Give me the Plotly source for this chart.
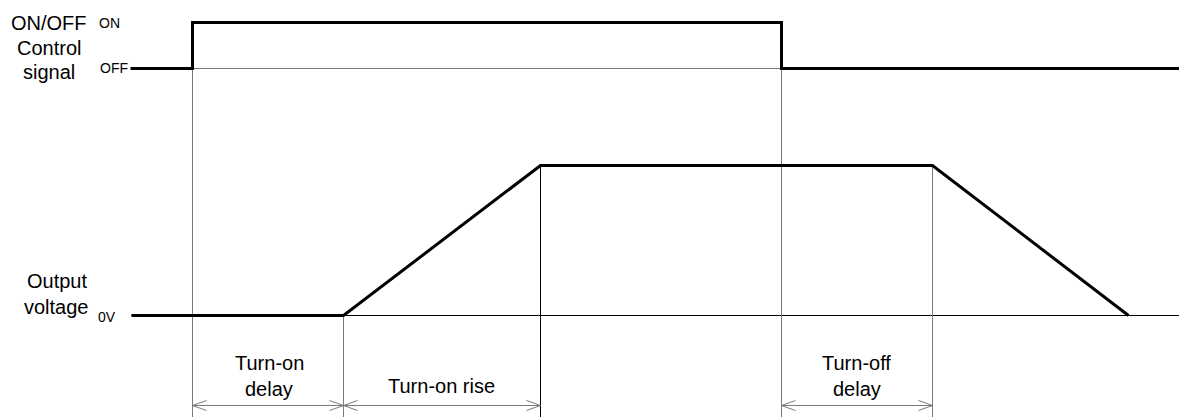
import plotly.graph_objects as go

# ---- diagram data (time axis in diagram units, levels in diagram rows) ----
OFF_LEVEL = 68
ON_LEVEL = 22
V0_LEVEL = 315
VHIGH_LEVEL = 165

control_t = [130, 192, 192, 781, 781, 1179]
control_y = [OFF_LEVEL, OFF_LEVEL, ON_LEVEL, ON_LEVEL, OFF_LEVEL, OFF_LEVEL]

output_t = [131, 343, 540, 932, 1128]
output_y = [V0_LEVEL, V0_LEVEL, VHIGH_LEVEL, VHIGH_LEVEL, V0_LEVEL]

t_on, t_rise_start, t_rise_end, t_off, t_fall_start = 192, 343, 540, 781, 932
bottom = 417
arrow_y = 405

intervals = [(t_on, t_rise_start), (t_rise_start, t_rise_end), (t_off, t_fall_start)]

left_labels = [
    ("ON/OFF", 48, 22, 20), ("Control", 48.5, 47.5, 20), ("signal", 48, 71.5, 20),
    ("ON", 108.5, 22, 14), ("OFF", 113, 67, 14),
    ("Output", 56.5, 280, 20), ("voltage", 56, 306.5, 20), ("0V", 106.5, 316.5, 14),
]
interval_labels = [
    ("Turn-on", 268.5, 362.5), ("delay", 268, 388),
    ("Turn-on rise", 441, 385.5),
    ("Turn-off", 856, 362.5), ("delay", 856, 388.5),
]

GRAY = "#7a7a7a"
fig = go.Figure()

def line(xs, ys, color, width):
    fig.add_trace(go.Scatter(x=xs, y=ys, mode="lines", hoverinfo="skip",
                             line=dict(color=color, width=width), showlegend=False))

# thin reference lines
line([t_on, t_off], [OFF_LEVEL, OFF_LEVEL], GRAY, 1)
line([131, 1179], [V0_LEVEL, V0_LEVEL], "black", 1)
# vertical guide lines
line([t_on, t_on], [ON_LEVEL, bottom], GRAY, 1)
line([t_rise_start, t_rise_start], [V0_LEVEL, bottom], GRAY, 1)
line([t_rise_end, t_rise_end], [VHIGH_LEVEL, bottom], "black", 1)
line([t_off, t_off], [OFF_LEVEL, bottom], GRAY, 1)
line([t_fall_start, t_fall_start], [VHIGH_LEVEL, bottom], GRAY, 1)

# signals
line(control_t, control_y, "black", 3)
line(output_t, output_y, "black", 3)

# dimension arrows with open chevron heads
HL, HH = 14, 5
for a, b in intervals:
    line([a, b], [arrow_y, arrow_y], GRAY, 1)
    line([a + HL, a, a + HL], [arrow_y - HH, arrow_y, arrow_y + HH], GRAY, 1)
    line([b - HL, b, b - HL], [arrow_y - HH, arrow_y, arrow_y + HH], GRAY, 1)

FONT = "Liberation Sans"
for txt, x, y, s in left_labels + [(t, x, y, 20) for t, x, y in interval_labels]:
    fig.add_annotation(x=x, y=y, text=txt, showarrow=False, xanchor="center",
                       yanchor="middle", font=dict(family=FONT, size=s, color="black"))

fig.update_layout(
    width=1179, height=417, margin=dict(l=0, r=0, t=0, b=0),
    paper_bgcolor="white", plot_bgcolor="white",
    xaxis=dict(range=[-0.5, 1178.5], visible=False, fixedrange=True),
    yaxis=dict(range=[416.5, -0.5], visible=False, fixedrange=True),
)
fig.write_html("out.html", config={"displayModeBar": False},
               post_script="document.body.style.margin='0';document.body.style.overflow='hidden';")
